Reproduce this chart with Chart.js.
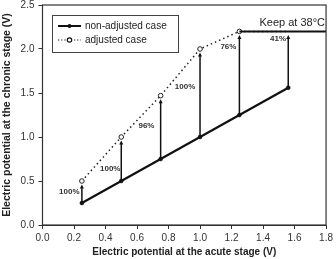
<!DOCTYPE html>
<html>
<head>
<meta charset="utf-8">
<script src="https://cdn.jsdelivr.net/npm/chart.js@4"></script>
<style>
  html, body { margin: 0; padding: 0; background: #fff; }
  #wrap { width: 336px; height: 259px; }
</style>
</head>
<body>
<div id="wrap"><canvas id="chart" width="336" height="259"></canvas></div>
<script>
// data
const acute = [0.25, 0.5, 0.75, 1.0, 1.25, 1.56];
const nonAdjusted = [0.25, 0.5, 0.75, 1.0, 1.25, 1.56];
const adjusted = [0.5, 1.0, 1.47, 2.0, 2.2, 2.2];
const keepX = [1.25, 1.8];
const keepY = [2.2, 2.2];
const pctLabels = ["100%", "100%", "96%", "100%", "76%", "41%"];
const pctX = [0.17, 0.43, 0.66, 0.905, 1.18, 1.495];
const pctY = [0.375, 0.64, 1.125, 1.57, 2.02, 2.12];

const FONT = "Liberation Sans, Arial, sans-serif";

// vertical arrows + percent labels + frame + legend
const annotate = {
  id: "annotate",
  afterDatasetsDraw(chart) {
    const { ctx, chartArea: a, scales: { x, y } } = chart;
    ctx.save();

    // arrows from non-adjusted up to adjusted
    ctx.strokeStyle = "#111";
    ctx.fillStyle = "#111";
    ctx.lineWidth = 1.5;
    acute.forEach((v, i) => {
      const px = x.getPixelForValue(v);
      const y0 = y.getPixelForValue(nonAdjusted[i]);
      const y1 = y.getPixelForValue(adjusted[i]) + 3.5;
      ctx.beginPath();
      ctx.moveTo(px, y0);
      ctx.lineTo(px, y1 + 3);
      ctx.stroke();
      ctx.beginPath();
      ctx.moveTo(px, y1);
      ctx.lineTo(px - 2, y1 + 4);
      ctx.lineTo(px + 2, y1 + 4);
      ctx.closePath();
      ctx.fill();
    });

    // percent labels
    ctx.fillStyle = "#333";
    ctx.font = "bold 8px " + FONT;
    ctx.textAlign = "center";
    ctx.textBaseline = "middle";
    pctLabels.forEach((t, i) => {
      ctx.fillText(t, x.getPixelForValue(pctX[i]), y.getPixelForValue(pctY[i]));
    });

    // keep text
    ctx.fillStyle = "#222";
    ctx.font = "11px " + FONT;
    ctx.textAlign = "right";
    ctx.textBaseline = "bottom";
    ctx.fillText("Keep at 38\u00B0C", a.right - 1, y.getPixelForValue(2.2) - 3);

    // frame
    ctx.strokeStyle = "#333";
    ctx.lineWidth = 1.2;
    ctx.strokeRect(a.left, a.top, a.right - a.left, a.bottom - a.top);

    // legend
    const lx = 52, ly = 15, lw = 126, lh = 37;
    ctx.fillStyle = "#fff";
    ctx.fillRect(lx, ly, lw, lh);
    ctx.strokeStyle = "#444";
    ctx.lineWidth = 1;
    ctx.strokeRect(lx + 0.5, ly + 0.5, lw, lh);
    ctx.strokeStyle = "#111";
    ctx.lineWidth = 2;
    ctx.beginPath();
    ctx.moveTo(lx + 6, ly + 11);
    ctx.lineTo(lx + 29, ly + 11);
    ctx.stroke();
    ctx.fillStyle = "#111";
    ctx.beginPath();
    ctx.arc(lx + 17.5, ly + 11, 2, 0, Math.PI * 2);
    ctx.fill();
    ctx.lineWidth = 1.2;
    ctx.setLineDash([1.2, 2]);
    ctx.beginPath();
    ctx.moveTo(lx + 6, ly + 25);
    ctx.lineTo(lx + 29, ly + 25);
    ctx.stroke();
    ctx.setLineDash([]);
    ctx.fillStyle = "#fff";
    ctx.beginPath();
    ctx.arc(lx + 17.5, ly + 25, 2.2, 0, Math.PI * 2);
    ctx.fill();
    ctx.stroke();
    ctx.fillStyle = "#222";
    ctx.font = "10px " + FONT;
    ctx.textAlign = "left";
    ctx.textBaseline = "middle";
    ctx.fillText("non-adjusted case", lx + 33, ly + 11);
    ctx.fillText("adjusted case", lx + 33, ly + 25);

    ctx.restore();
  },
};

const ctx = document.getElementById("chart").getContext("2d");
new Chart(ctx, {
  type: "scatter",
  data: {
    datasets: [
      {
        label: "keep",
        data: keepX.map((v, i) => ({ x: v, y: keepY[i] })),
        showLine: true,
        borderColor: "#111",
        borderWidth: 2,
        pointRadius: 0,
      },
      {
        label: "adjusted case",
        data: acute.map((v, i) => ({ x: v, y: adjusted[i] })),
        showLine: true,
        borderColor: "#222",
        borderWidth: 1.5,
        borderDash: [1.5, 3],
        pointRadius: [2.3, 2.3, 2.3, 2.3, 2.3, 0],
        pointBackgroundColor: "#fff",
        pointBorderColor: "#222",
        pointBorderWidth: 1,
      },
      {
        label: "non-adjusted case",
        data: acute.map((v, i) => ({ x: v, y: nonAdjusted[i] })),
        showLine: true,
        borderColor: "#111",
        borderWidth: 2.2,
        pointRadius: 2,
        pointBorderWidth: 0.5,
        pointBackgroundColor: "#111",
        pointBorderColor: "#111",
      },
    ],
  },
  options: {
    responsive: false,
    animation: false,
    layout: { padding: { top: 0, right: 9, left: 0, bottom: 0 } },
    plugins: {
      legend: { display: false },
      tooltip: { enabled: false },
    },
    scales: {
      x: {
        type: "linear",
        min: 0,
        max: 1.8,
        afterFit: (s) => { s.height = 34; },
        ticks: {
          stepSize: 0.2,
          color: "#333",
          font: { family: FONT, size: 10 },
          callback: (v) => v.toFixed(1),
          padding: 3,
        },
        grid: { drawOnChartArea: false, tickLength: 4, color: "#333" },
        border: { color: "#333" },
        title: {
          display: true,
          text: "Electric potential at the acute stage (V)",
          color: "#222",
          font: { family: FONT, size: 10, weight: "bold" },
          padding: { top: 0, bottom: 1 },
        },
      },
      y: {
        min: 0,
        max: 2.5,
        afterFit: (s) => { s.paddingTop = 5; },
        ticks: {
          stepSize: 0.5,
          color: "#333",
          font: { family: FONT, size: 10 },
          callback: (v) => v.toFixed(1),
          padding: 4,
        },
        grid: { drawOnChartArea: false, tickLength: 4, color: "#333" },
        border: { color: "#333" },
        title: {
          display: true,
          text: "Electric potential at the chronic stage (V)",
          color: "#222",
          font: { family: FONT, size: 10.5, weight: "bold" },
          padding: { top: 1, bottom: 3 },
        },
      },
    },
  },
  plugins: [annotate],
});
</script>
</body>
</html>
